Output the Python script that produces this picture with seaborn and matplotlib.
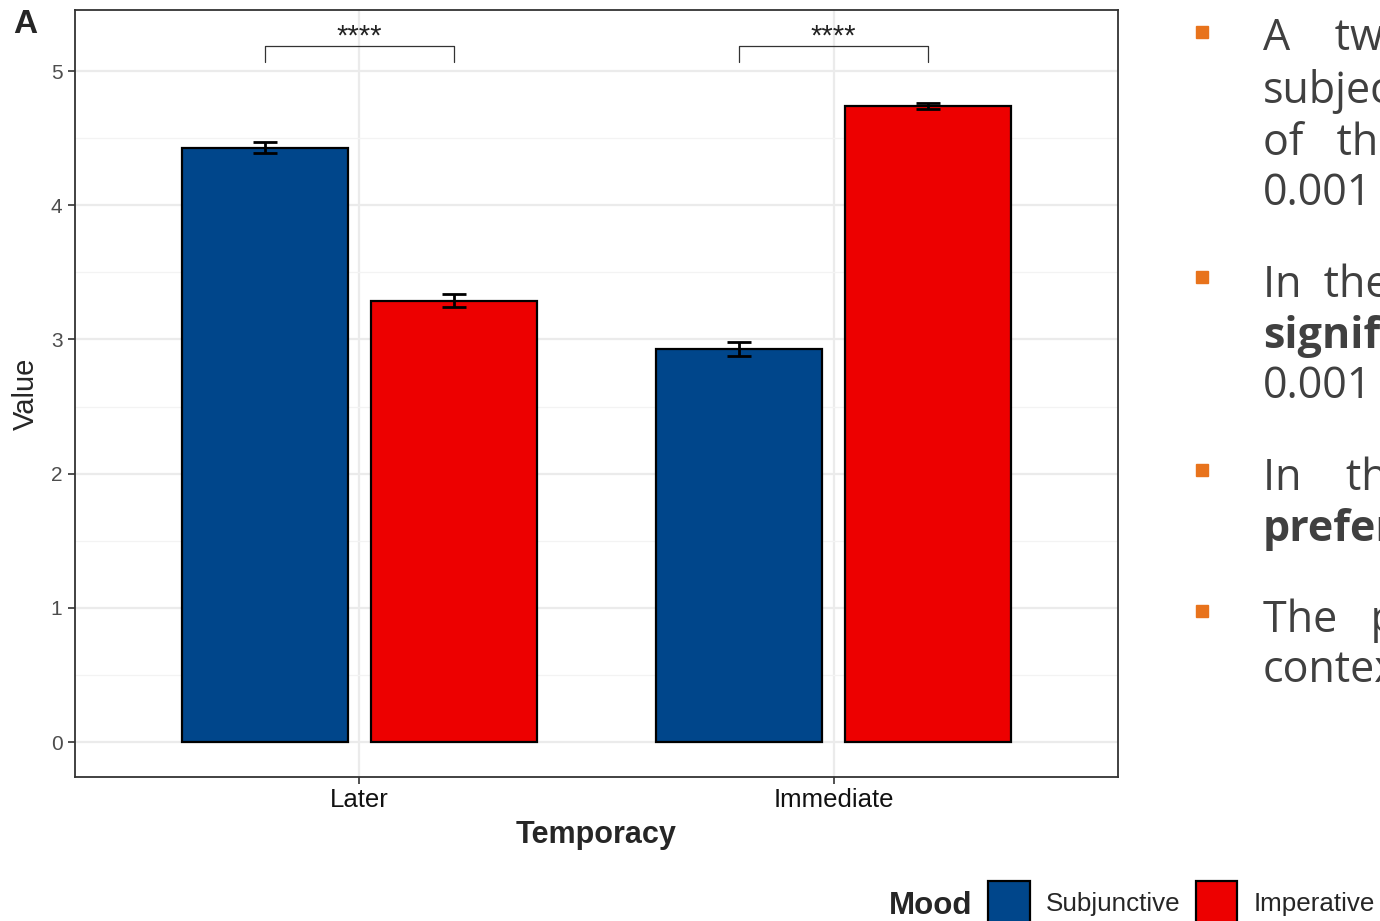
import numpy as np
import pandas as pd
import matplotlib
matplotlib.use("Agg")
import matplotlib.pyplot as plt
from matplotlib.patches import Rectangle, Patch
import seaborn as sns

# du lieu doc tu hinh
temporacy = ["Later", "Immediate"]
moods = ["Subjunctive", "Imperative"]
subjunctive_mean = [4.43, 2.93]
imperative_mean = [3.29, 4.74]
subjunctive_se = [0.04, 0.05]
imperative_se = [0.05, 0.02]
sig_labels = ["****", "****"]
mood_colors = ["#00468B", "#ED0000"]

df = pd.DataFrame({
    "Temporacy": temporacy * 2,
    "Mood": [moods[0]] * 2 + [moods[1]] * 2,
    "Value": subjunctive_mean + imperative_mean,
    "SE": subjunctive_se + imperative_se,
})

sns.set_style("white")
plt.rcParams["font.family"] = ["Liberation Sans", "DejaVu Sans"]

W, H = 1380, 921
fig = plt.figure(figsize=(W / 100, H / 100), dpi=100)
ax = fig.add_axes([75 / W, 1 - 777 / H, (1118 - 75) / W, (777 - 10) / H])

sns.barplot(data=df, x="Temporacy", y="Value", hue="Mood", order=temporacy,
            hue_order=moods, palette=mood_colors, width=0.8, gap=0.125,
            errorbar=None, edgecolor="black", linewidth=1.6, saturation=1,
            legend=False, ax=ax, zorder=3)
bar_conts = list(ax.containers)

# error bars tu vi tri cot
for cont, lvl in zip(bar_conts, moods):
    sub = df[df["Mood"] == lvl].set_index("Temporacy").loc[temporacy]
    xs = [b.get_x() + b.get_width() / 2 for b in cont]
    ax.errorbar(xs, sub["Value"], yerr=sub["SE"], fmt="none", ecolor="black",
                elinewidth=2, capsize=8.5, capthick=2, zorder=4)

# dau sao y nghia
for i, lab in enumerate(sig_labels):
    xs = [c[i].get_x() + c[i].get_width() / 2 for c in bar_conts]
    ax.plot([xs[0], xs[0], xs[1], xs[1]], [5.067, 5.186, 5.186, 5.067],
            color="#333333", lw=0.9, zorder=4)
    ax.text(np.mean(xs), 5.15, lab, ha="center", va="bottom", fontsize=21,
            color="#222222")

ax.set_xlim(-0.6, 1.6)
ax.set_ylim(-0.26, 5.455)
ax.set_yticks([0, 1, 2, 3, 4, 5])
ax.set_yticks(np.arange(0.5, 5.5, 1), minor=True)
ax.grid(True, which="major", color="#EBEBEB", lw=1.6, zorder=0)
ax.grid(True, which="minor", axis="y", color="#F3F3F3", lw=0.9, zorder=0)
ax.set_axisbelow(True)
for s in ax.spines.values():
    s.set_color("#333333")
    s.set_linewidth(1.3)
ax.tick_params(axis="y", length=5, width=1.2, color="#333333", labelsize=15,
               labelcolor="#4D4D4D", left=True, pad=4)
ax.tick_params(axis="y", which="minor", left=False)
ax.tick_params(axis="x", length=5, width=1.2, color="#333333", labelsize=18.5,
               labelcolor="#111111", bottom=True, pad=3)
ax.set_xlabel("Temporacy", fontsize=22, fontweight="bold", labelpad=6)
ax.set_ylabel("Value", fontsize=21, labelpad=8)

fig.text(13 / W, 1 - 33 / H, "A", fontsize=24, fontweight="bold", va="baseline")

# chu giai
fig.text(889 / W, 1 - 914 / H, "Mood", fontsize=22.5, fontweight="bold", va="baseline")
handles = [Patch(facecolor=c, edgecolor="black", linewidth=1.6) for c in mood_colors]
fig.legend(handles, moods, loc="upper left", bbox_to_anchor=(988 / W, 1 - 881 / H),
           ncol=2, frameon=False, fontsize=18.7, handlelength=1.6, handleheight=2.2,
           handletextpad=0.62, columnspacing=0.6, borderpad=0, borderaxespad=0)

# phan van ban ben phai (bi cat o mep hinh)
bullets = [32, 277, 470, 611]
for yb in bullets:
    fig.patches.append(Rectangle((1196 / W, 1 - (yb + 6) / H), 12 / W, 12 / H,
                                 transform=fig.transFigure, color="#E8731C"))
lines = [
    ("A    tw", 50, "normal"),
    ("subjec", 103, "normal"),
    ("of   the", 155, "normal"),
    ("0.001", 205, "normal"),
    ("In  the", 297, "normal"),
    ("signifi", 348, "bold"),
    ("0.001", 398, "normal"),
    ("In    th", 490, "normal"),
    ("prefer", 541, "bold"),
    ("The   p", 632, "normal"),
    ("contex", 682, "normal"),
]
for txt, yb, wt in lines:
    fig.text(1263 / W, 1 - yb / H, txt, fontsize=31, color="#404040",
             fontweight=wt, va="baseline", family=["Open Sans", "DejaVu Sans"])

fig.savefig("out.png", dpi=100)
